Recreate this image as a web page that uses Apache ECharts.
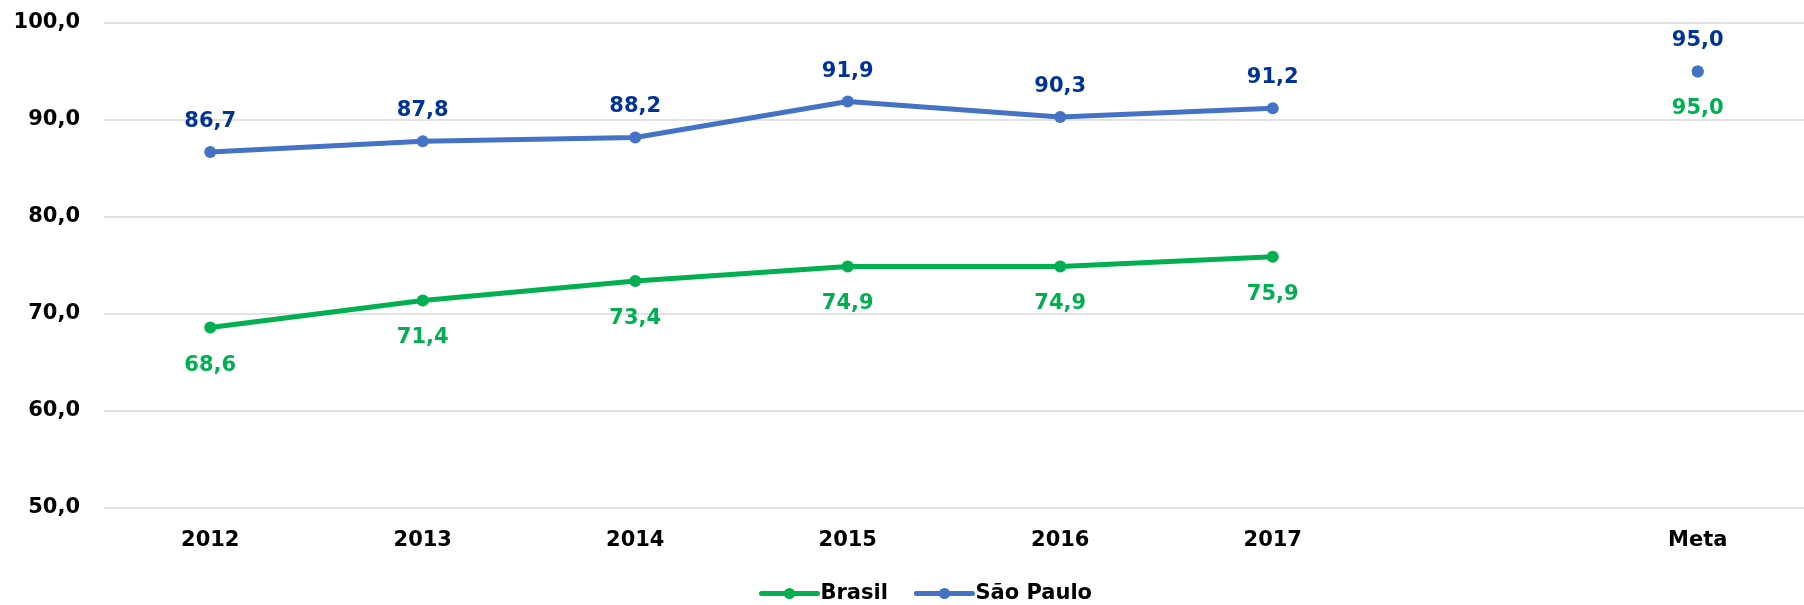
<!DOCTYPE html>
<html>
<head>
<meta charset="utf-8">
<script src="https://cdn.jsdelivr.net/npm/echarts@6/dist/echarts.min.js"></script>
<style>
  html, body { margin: 0; padding: 0; background: #fff; }
  #chart { width: 1804px; height: 605px; }
</style>
</head>
<body>
<div id="chart"></div>
<script>
const categories = ["2012", "2013", "2014", "2015", "2016", "2017", "", "Meta"];
const brasil = [68.6, 71.4, 73.4, 74.9, 74.9, 75.9, null, 95.0];
const saoPaulo = [86.7, 87.8, 88.2, 91.9, 90.3, 91.2, null, 95.0];
const yTicks = { min: 50, max: 100, interval: 10 };

const fmt = (v) => Number(v).toFixed(1).replace(".", ",");
const font = "DejaVu Sans";

const myChart = echarts.init(document.getElementById("chart"));
const option = {
  animation: false,
  textStyle: { fontFamily: font },
  grid: { left: 104, right: -15, top: 23, bottom: 97, containLabel: false },
  legend: {
    left: 754,
    bottom: -4,
    itemWidth: 56,
    itemHeight: 14,
    itemGap: 26,
    lineStyle: { width: 5, cap: "round" },
    textStyle: { fontFamily: font, fontWeight: "bold", fontSize: 21, color: "#000", padding: [0, 0, 0, -2] },
    data: ["Brasil", "São Paulo"],
  },
  xAxis: {
    type: "category",
    data: categories,
    boundaryGap: true,
    axisLine: { show: false },
    axisTick: { show: false },
    axisLabel: {
      interval: 0,
      margin: 22,
      fontFamily: font,
      fontWeight: "bold",
      fontSize: 21,
      color: "#000",
    },
  },
  yAxis: {
    type: "value",
    min: yTicks.min,
    max: yTicks.max,
    interval: yTicks.interval,
    axisLine: { show: false },
    axisTick: { show: false },
    splitLine: { lineStyle: { color: "#d9d9d9", width: 1.5 } },
    axisLabel: {
      margin: 24,
      fontFamily: font,
      fontWeight: "bold",
      fontSize: 21,
      color: "#000",
      formatter: fmt,
    },
  },
  series: [
    {
      name: "Brasil",
      type: "line",
      data: brasil,
      connectNulls: false,
      symbol: "circle",
      symbolSize: 12,
      itemStyle: { color: "#00B050" },
      lineStyle: { color: "#00B050", width: 5 },
      label: {
        show: true,
        position: "bottom",
        distance: 21,
        fontFamily: font,
        fontWeight: "bold",
        fontSize: 21,
        color: "#00B050",
        formatter: (p) => fmt(p.value),
      },
    },
    {
      name: "São Paulo",
      type: "line",
      data: saoPaulo,
      connectNulls: false,
      symbol: "circle",
      symbolSize: 12,
      itemStyle: { color: "#4472C4" },
      lineStyle: { color: "#4472C4", width: 5 },
      label: {
        show: true,
        position: "top",
        distance: 14,
        fontFamily: font,
        fontWeight: "bold",
        fontSize: 21,
        color: "#003399",
        formatter: (p) => fmt(p.value),
      },
    },
  ],
};
myChart.setOption(option);
</script>
</body>
</html>
